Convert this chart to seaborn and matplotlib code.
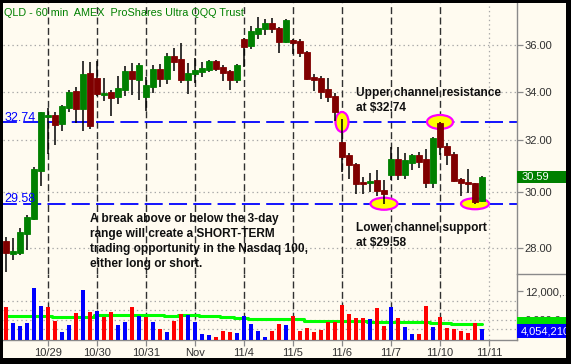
import numpy as np
import pandas as pd
import matplotlib
matplotlib.use("Agg")
import matplotlib.pyplot as plt
import matplotlib.transforms as mtransforms
from matplotlib.patches import Ellipse, Rectangle
from matplotlib.lines import Line2D
from matplotlib.ticker import FixedLocator, FixedFormatter, NullLocator
import seaborn as sns

# ---- QLD 60-minute bars, 10/28 - 11/10 ----
opens = [28.25, 27.79, 27.83, 28.49, 29.03, 30.81, 32.94, 33.03, 32.66, 33.31,
         34.02, 33.27, 34.79, 34.58, 33.86, 33.98, 33.77, 34.07, 34.88, 34.49,
         33.77, 34.19, 34.97, 34.53, 35.53, 35.40, 34.49, 34.75, 34.84, 34.92,
         35.31, 35.05, 34.88, 34.49, 36.29, 35.98, 36.52, 36.74, 37.02, 36.79,
         36.16, 36.25, 36.20, 35.71, 34.62, 34.58, 34.11, 33.81, 31.94, 31.43,
         31.08, 30.40, 30.36, 30.47, 30.09, 30.66, 31.27, 30.66, 31.12, 31.43,
         31.27, 30.36, 32.70, 31.78, 31.47, 30.51, 30.39, 30.36, 29.68]
highs = [28.39, 28.35, 28.71, 29.17, 30.96, 33.15, 33.31, 33.15, 33.44, 34.07,
         34.19, 35.31, 35.27, 35.31, 34.58, 34.07, 34.66, 35.10, 35.23, 35.23,
         34.62, 35.14, 35.18, 35.67, 35.89, 36.11, 35.23, 35.45, 35.27, 35.36,
         35.36, 35.14, 34.92, 35.18, 36.34, 36.88, 37.29, 37.20, 37.25, 36.84,
         37.20, 36.29, 36.29, 35.76, 34.75, 34.66, 34.58, 33.94, 32.86, 31.51,
         31.12, 30.58, 30.73, 30.85, 30.47, 31.74, 31.74, 31.51, 31.47, 31.54,
         31.66, 32.14, 32.74, 31.90, 31.54, 30.55, 30.89, 30.36, 30.62]
lows = [27.18, 27.59, 27.76, 27.93, 28.99, 30.24, 31.47, 31.82, 32.38, 33.15,
        32.70, 32.38, 32.46, 33.81, 33.60, 32.98, 33.48, 33.81, 33.86, 33.65,
        33.19, 33.94, 34.19, 34.32, 34.88, 34.36, 33.90, 34.36, 34.62, 34.84,
        34.88, 34.45, 34.07, 34.36, 35.05, 35.84, 36.29, 36.47, 36.56, 35.67,
        36.11, 35.62, 35.49, 34.49, 34.02, 33.69, 33.56, 32.78, 30.77, 30.51,
        29.95, 29.95, 30.02, 29.87, 29.58, 30.47, 30.47, 30.51, 30.85, 30.93,
        30.17, 30.17, 31.43, 31.04, 30.39, 29.87, 29.98, 29.58, 29.65]
closes = [27.83, 27.88, 28.56, 29.10, 30.89, 33.15, 33.03, 32.62, 33.40, 33.98,
          33.27, 34.75, 32.58, 33.90, 33.94, 33.73, 34.15, 34.88, 34.53, 35.14,
          34.28, 34.97, 34.53, 35.53, 35.27, 34.49, 34.79, 34.92, 35.01, 35.31,
          34.97, 34.79, 34.49, 35.14, 35.93, 36.65, 36.79, 37.02, 36.74, 36.16,
          37.16, 36.11, 35.67, 34.53, 34.49, 33.98, 33.77, 33.15, 31.35, 31.04,
          30.32, 30.32, 30.43, 30.06, 29.95, 31.27, 30.66, 31.23, 31.43, 31.16,
          30.36, 32.10, 31.74, 31.43, 30.43, 30.36, 30.32, 29.65, 30.59]

# volume in millions of shares, with the up/down tick of each bar
volume_m = [8.66, 5.31, 4.69, 5.31, 12.64, 8.87, 8.66, 5.73, 3.43, 4.90,
            7.41, 12.22, 7.62, 7.82, 6.57, 7.62, 4.90, 5.52, 8.66, 6.78,
            6.57, 5.52, 4.06, 3.43, 5.73, 7.20, 6.99, 5.52, 3.01, 2.80,
            2.38, 3.64, 3.43, 3.22, 6.78, 5.10, 3.64, 2.38, 3.64, 5.10,
            4.90, 6.78, 3.64, 4.27, 3.43, 3.85, 5.52, 5.52, 9.08, 7.20,
            6.36, 6.36, 6.15, 8.45, 4.69, 8.66, 6.36, 4.48, 3.01, 3.01,
            8.87, 4.48, 6.57, 4.27, 4.06, 3.64, 3.22, 5.31, 4.05421]
volume_dir = ["down", "up", "up", "up", "up", "up", "down", "down", "up", "up",
              "down", "up", "down", "up", "down", "down", "up", "up", "down", "up",
              "down", "up", "down", "up", "down", "down", "up", "up", "up", "up",
              "down", "down", "down", "up", "up", "up", "up", "up", "down", "down",
              "up", "down", "down", "down", "down", "down", "down", "down", "down", "down",
              "down", "down", "up", "down", "down", "up", "down", "up", "up", "down",
              "down", "up", "down", "down", "down", "down", "down", "down", "up"]
volume_avg_m = [6.84, 6.84, 6.84, 6.84, 6.84, 6.84, 6.84, 6.57, 6.57, 6.57,
                6.57, 6.57, 6.57, 6.99, 6.99, 6.99, 6.99, 6.99, 6.99, 6.99,
                6.99, 6.99, 6.99, 6.78, 6.78, 7.05, 7.05, 7.05, 6.84, 6.84,
                6.84, 6.63, 6.63, 6.42, 6.42, 6.25, 6.25, 6.25, 6.25, 6.09,
                6.09, 6.09, 6.09, 5.73, 5.73, 5.73, 5.73, 5.73, 5.73, 5.73,
                5.73, 5.73, 5.59, 5.59, 5.59, 5.59, 5.59, 5.59, 5.59, 5.59,
                5.59, 5.38, 5.38, 5.38, 5.17, 5.17, 5.17, 5.17, 5.17]

day_labels = ["10/29", "10/30", "10/31", "Nov", "11/4", "11/5", "11/6", "11/7", "11/10", "11/11"]
day_first_bar = [6, 13, 20, 27, 34, 41, 48, 55, 62, 69]

resistance = 32.74
support = 29.58
price_ticks = [28, 30, 32, 34, 36]
volume_ticks_m = [12, 6]
volume_tick_labels = ["12,000,...", "6,000,0"]
volume_grid_m = [4, 6, 8, 10]

title = "QLD - 60 min  AMEX  ProShares Ultra QQQ Trust"
note_upper = ["Upper channel resistance", "at $32.74"]
note_lower = ["Lower channel support", "at $29.58"]
note_range = ["A break above or below the 3-day",
              "range will create a SHORT-TERM",
              "trading opportunity in the Nasdaq 100,",
              "either long or short."]

# ---- figure ----
W, H = 571, 364
sns.set_style("white")
plt.rcParams["font.family"] = ["Liberation Sans", "DejaVu Sans"]
plt.rcParams["lines.scale_dashes"] = False

CREAM = "#FFFBF0"
GREY = "#8A8A8A"
TXT = "#303030"

fig = plt.figure(figsize=(W / 100, H / 100), dpi=100, facecolor="black")


def fx(px):
    return px / W


def fy(py):
    return 1 - py / H


fig.add_artist(Rectangle((fx(3), fy(358)), fx(566) - fx(3), fy(3) - fy(358),
                         transform=fig.transFigure, fc=CREAM, ec="none", zorder=-10))

LEFT, RIGHT = 3, 517
P_TOP, P_BOT, V_BOT = 3, 274, 340
axp = fig.add_axes([fx(LEFT), fy(P_BOT), fx(RIGHT) - fx(LEFT), fy(P_TOP) - fy(P_BOT)])
axv = fig.add_axes([fx(LEFT), fy(V_BOT), fx(RIGHT) - fx(LEFT), fy(P_BOT) - fy(V_BOT)])
for ax in (axp, axv):
    ax.set_facecolor("none")
    for s in ("left", "top", "bottom"):
        ax.spines[s].set_visible(False)
    ax.spines["right"].set_color(GREY)
    ax.spines["right"].set_linewidth(1.0)
axv.spines["bottom"].set_visible(True)
axv.spines["bottom"].set_color(GREY)
axv.spines["bottom"].set_linewidth(1.0)

n = len(closes)
x = np.arange(n)
o, hi, lo, c = (np.array(a) for a in (opens, highs, lows, closes))
XLIM = (-0.43, 73.0)

# ---- price panel ----
axp.set_yscale("log")
for p in price_ticks:
    axp.axhline(p, color="#A8A8A8", lw=0.9, ls=(0, (1, 2.2)), zorder=1)
for i in day_first_bar[:-1]:
    axp.axvline(i, color="#303030", lw=1.0, ls=(0, (5, 2.5)), zorder=1)
axp.axvline(day_first_bar[-1], color="#A8A8A8", lw=0.9, ls=(0, (1, 2.2)), zorder=1)

for lvl in (resistance, support):
    axp.axhline(lvl, color="#0000FF", lw=1.3, ls=(3, (13, 4.5)), zorder=2)
    axp.annotate(f"{lvl:.2f}", xy=(0, lvl), xycoords=("axes fraction", "data"),
                 xytext=(0.8, 0.9), textcoords="offset points", va="baseline",
                 ha="left", color="#0000FF", fontsize=9, zorder=6)


def mark(i, price, w, h):
    tr = fig.dpi_scale_trans + mtransforms.ScaledTranslation(i, price, axp.transData)
    axp.add_artist(Ellipse((0, 0), w / 100, h / 100, transform=tr, fc="#FFFF00",
                           ec="#FF00FF", lw=1.6, zorder=2.5, clip_on=False))


mark(48, resistance, 13, 20)
mark(62, resistance, 26, 14)
mark(54, support, 27, 12)
mark(67, support, 28, 11)

body_colors = np.where(c >= o, "#008000", "#800000")
axp.vlines(x, lo, hi, color="black", lw=1.1, zorder=3)
axp.bar(x, np.abs(c - o), bottom=np.minimum(o, c), width=0.76,
        color=body_colors, edgecolor=body_colors, lw=0.6, zorder=4)

axp.set_xlim(*XLIM)
axp.set_ylim(27.11, 37.95)
axp.yaxis.tick_right()
axp.yaxis.set_major_locator(FixedLocator(price_ticks))
axp.yaxis.set_major_formatter(FixedFormatter([f"{p:.2f}" for p in price_ticks]))
axp.yaxis.set_minor_locator(NullLocator())
axp.tick_params(axis="y", length=4, width=0.9, color=GREY, labelsize=8,
                labelcolor=TXT, pad=1.5, right=True, left=False)
axp.set_xticks([])

# last price tag
blend_p = mtransforms.blended_transform_factory(axp.transAxes, axp.transData)
tr = fig.dpi_scale_trans + mtransforms.ScaledTranslation(1.0, closes[-1], blend_p)
axp.add_artist(Rectangle((0, -0.06), 0.50, 0.12, transform=tr, fc="#008000",
                         ec="none", clip_on=False, zorder=5))
axp.text(0.05, -0.003, f"{closes[-1]:.2f}", transform=tr, color="white", fontsize=8,
         va="center", ha="left", clip_on=False, zorder=6)

# ---- volume panel ----
vol_df = pd.DataFrame({"bar": x, "volume": volume_m, "dir": volume_dir})
for g in volume_grid_m:
    axv.axhline(g, color="#A8A8A8", lw=0.9, ls=(0, (1, 2.2)), zorder=0.5)
for i in day_first_bar[:-1]:
    axv.axvline(i, color="#303030", lw=1.0, ls=(0, (5, 2.5)), zorder=0.5)
axv.axvline(day_first_bar[-1], color="#A8A8A8", lw=0.9, ls=(0, (1, 2.2)), zorder=0.5)

sns.lineplot(x=x, y=volume_avg_m, ax=axv, color="#00FF00", lw=2.2,
             drawstyle="steps-mid", zorder=2)
sns.barplot(data=vol_df, x="bar", y="volume", hue="dir",
            palette={"up": "#0000FF", "down": "#FF0000"}, native_scale=True,
            dodge=False, width=0.45, errorbar=None, legend=False, saturation=1,
            linewidth=0, ax=axv, zorder=3)

axv.set_xlim(*XLIM)
axv.set_ylim(1.76, 15.56)
axv.set_xlabel("")
axv.set_ylabel("")
axv.yaxis.tick_right()
axv.yaxis.set_major_locator(FixedLocator(volume_ticks_m))
axv.yaxis.set_major_formatter(FixedFormatter(volume_tick_labels))
axv.yaxis.set_minor_locator(NullLocator())
axv.tick_params(axis="y", length=4, width=0.9, color=GREY, labelsize=8,
                labelcolor=TXT, pad=1.5, right=True, left=False)
axv.xaxis.set_major_locator(FixedLocator(day_first_bar))
axv.xaxis.set_major_formatter(FixedFormatter(day_labels))
axv.xaxis.set_minor_locator(NullLocator())
axv.tick_params(axis="x", length=4, width=0.9, color=GREY, labelsize=8,
                labelcolor=TXT, pad=2, bottom=True, direction="out")

# average-volume and last-volume tags on the scale
blend_v = mtransforms.blended_transform_factory(axv.transAxes, axv.transData)
tr_avg = fig.dpi_scale_trans + mtransforms.ScaledTranslation(1.0, volume_avg_m[-1], blend_v)
axv.add_artist(Rectangle((0, -0.065), 0.50, 0.13, transform=tr_avg, fc="#00E000",
                         ec="none", clip_on=False, zorder=5))
tr_vol = fig.dpi_scale_trans + mtransforms.ScaledTranslation(1.0, volume_m[-1], blend_v)
axv.add_artist(Rectangle((0, -0.087), 0.50, 0.134, transform=tr_vol, fc="#0000FF",
                         ec="none", clip_on=False, zorder=6))
axv.text(0.04, -0.02, f"{volume_m[-1] * 1e6:,.0f}", transform=tr_vol, color="white",
         fontsize=8, va="center", ha="left", clip_on=False, zorder=7)

# separator between the price and volume scales
fig.add_artist(Line2D([fx(RIGHT), fx(566)], [fy(P_BOT), fy(P_BOT)],
                      transform=fig.transFigure, color=GREY, lw=1.0, zorder=5))

# ---- text ----
fig.text(fx(4), fy(15.5), title, color="#008000", fontsize=7.8, va="baseline", ha="left")
for k, line in enumerate(note_upper):
    fig.text(fx(356), fy(96 + 15 * k), line, fontsize=8.6, fontweight="bold",
             color="#101010", va="baseline", ha="left")
for k, line in enumerate(note_lower):
    fig.text(fx(356), fy(231 + 15 * k), line, fontsize=8.6, fontweight="bold",
             color="#101010", va="baseline", ha="left")
for k, line in enumerate(note_range):
    fig.text(fx(90), fy(221.7 + 15 * k), line, fontsize=8.6, fontweight="bold",
             color="#101010", va="baseline", ha="left")

# black frame around the chart
for rect in [(0, fy(3), 1, 1 - fy(3)), (0, 0, 1, fy(358)),
             (0, 0, fx(3), 1), (fx(566), 0, 1 - fx(566), 1)]:
    fig.add_artist(Rectangle(rect[:2], rect[2], rect[3], transform=fig.transFigure,
                             fc="black", ec="none", zorder=100))

fig.savefig("out.png", dpi=100, facecolor="black")
